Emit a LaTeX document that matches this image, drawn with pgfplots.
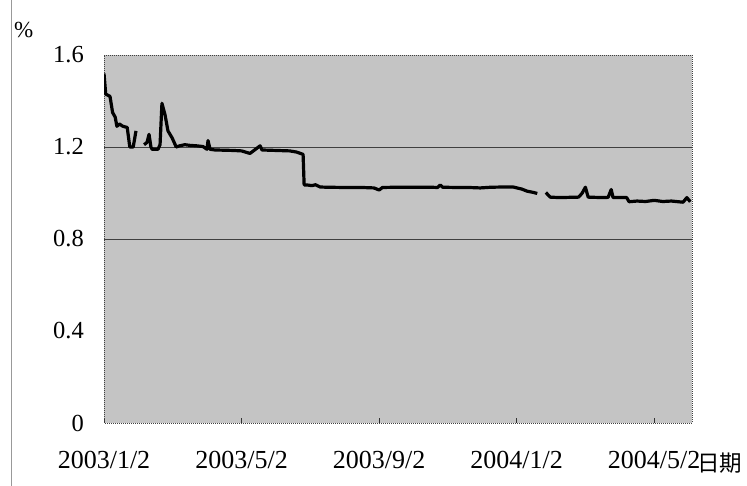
\documentclass[border=0pt]{standalone}
\usepackage{pgfplots}
\pgfplotsset{compat=1.18}
\usepackage{fontspec}
\setmainfont{Liberation Serif}
\newfontfamily\cjk{Noto Sans CJK SC}
\pgfplotstableread{
x y
0 1.52
1 1.43
3.5 1.42
5 1.35
6.5 1.33
7.5 1.29
9 1.30
11 1.29
13.5 1.285
15 1.20
17 1.20
18.6 1.27
20 nan
23.3 1.21
25 1.22
26.2 1.255
27.3 1.20
28 1.19
31.4 1.19
32.6 1.21
33.7 1.39
35.5 1.34
37.2 1.27
39.6 1.24
42 1.20
44 1.205
47 1.21
50 1.207
54 1.205
57.6 1.202
59.9 1.19
60.5 1.228
61.7 1.19
64.6 1.187
70 1.186
75 1.185
80 1.183
84.9 1.172
86.7 1.182
90.8 1.205
91.9 1.187
96 1.186
100 1.185
104 1.184
108 1.183
112 1.178
115.8 1.168
116.4 1.035
118 1.035
121 1.032
123 1.036
125.7 1.026
130 1.025
140 1.024
150 1.024
157 1.022
160 1.013
162 1.024
170 1.025
180 1.025
190 1.025
194 1.024
195.5 1.035
197 1.025
205 1.024
212 1.024
218.8 1.022
225 1.025
232 1.026
238 1.026
243 1.017
246 1.008
250 1.002
252 0.998
253 nan
257 1.002
259.5 0.982
265 0.980
270 0.981
276 0.982
278 0.998
280 1.025
281.6 0.982
290 0.980
293.2 0.981
295 1.015
296.1 0.980
304 0.980
305.4 0.962
310 0.965
315 0.963
320 0.968
325 0.963
330 0.965
334 0.962
336.8 0.960
339 0.980
341 0.962
}\datatable
\begin{document}
\begin{tikzpicture}
\useasboundingbox (0,0) rectangle (747pt,486pt);
\draw[black!40, line width=0.8pt] (11pt,0) -- (11pt,486pt);
\node[anchor=west, inner sep=0pt, font=\fontsize{23}{26}\selectfont] at (14pt,456pt) {\%};
\node[anchor=west, inner sep=0pt, font=\cjk\fontsize{22.5}{26}\selectfont] at (697pt,23pt) {日期};
\begin{axis}[
  at={(104pt,63pt)}, anchor=south west,
  scale only axis, width=588pt, height=368pt,
  xmin=0, xmax=342, ymin=0, ymax=1.6,
  unbounded coords=jump,
  axis background/.style={fill={rgb,255:red,196;green,196;blue,196}},
  axis line style={black!75, dash pattern=on 1pt off 1pt, line width=0.9pt},
  xtick={0,80,160,240,320},
  xticklabels={2003/1/2,2003/5/2,2003/9/2,2004/1/2,2004/5/2},
  xtick pos=bottom, tick align=inside,
  major tick length=5pt,
  x tick style={black!80, line width=0.8pt},
  x tick label style={font=\fontsize{26}{28}\selectfont, anchor=north, inner sep=0pt, yshift=-28pt},
  ytick={0,0.4,0.8,1.2,1.6},
  yticklabels={0,0.4,0.8,1.2,1.6},
  y tick style={draw=none},
  y tick label style={font=\fontsize{24.5}{28}\selectfont, anchor=east, inner sep=0pt, xshift=-20pt},
  extra y ticks={0.8,1.2},
  extra y tick labels={},
  extra y tick style={grid=major, major grid style={black!75, line width=0.8pt}, tick style={draw=none}},
]
\addplot[black, line width=3.2pt, line join=round] table[x=x, y=y] {\datatable};
\end{axis}
\end{tikzpicture}
\end{document}
